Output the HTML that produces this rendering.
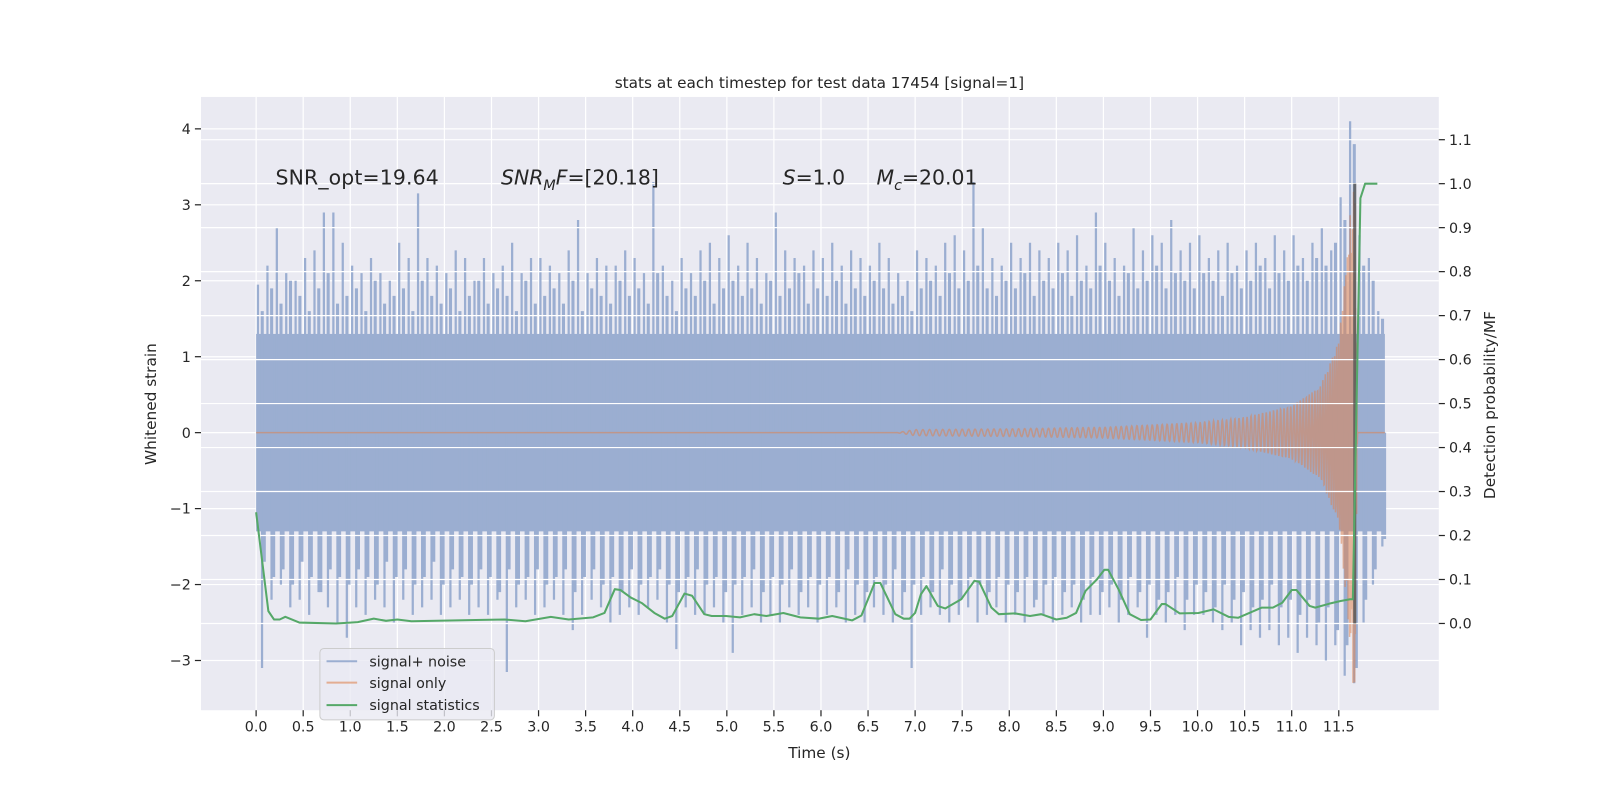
<!DOCTYPE html>
<html><head><meta charset="utf-8"><style>
body{margin:0;background:#fff;}
svg{display:block;font-family:"DejaVu Sans","Liberation Sans",sans-serif;}
</style></head><body>
<svg id="chart" width="1600" height="800" viewBox="0 0 1568 784" xmlns="http://www.w3.org/2000/svg">
<rect x="0" y="0" width="1568" height="784" fill="#ffffff"/>
<rect x="197" y="95" width="1213" height="601" fill="#eaeaf2"/>
<g id="gridL"></g>
<g id="gridX"></g>
<g id="noise"></g>
<g id="sig"></g>
<g id="gridR"></g>
<g id="stat"></g>
<g id="axes"></g>
<text x="803" y="86" text-anchor="middle" font-size="15" fill="#262626">stats at each timestep for test data 17454 [signal=1]</text>
<text x="803" y="743" text-anchor="middle" font-size="15" fill="#262626">Time (s)</text>
<text transform="translate(153,396) rotate(-90)" text-anchor="middle" font-size="15" fill="#262626">Whitened strain</text>
<text transform="translate(1465,397) rotate(-90)" text-anchor="middle" font-size="15" fill="#262626">Detection probability/MF</text>
<g font-size="20" fill="#262626">
<text x="270" y="181" textLength="160">SNR_opt=19.64</text>
<text x="491" y="181"><tspan font-style="italic">SNR</tspan><tspan font-style="italic" font-size="14" dy="5">M</tspan><tspan font-style="italic" dy="-5">F</tspan>=[20.18]</text>
<text x="767" y="181"><tspan font-style="italic">S</tspan>=1.0</text>
<text x="859" y="181"><tspan font-style="italic">M</tspan><tspan font-style="italic" font-size="14" dy="5">c</tspan><tspan dy="-5">=20.01</tspan></text>
</g>
<g>
<rect x="313.5" y="635.5" width="171" height="70" rx="4" fill="#eaeaf2" fill-opacity="0.8" stroke="#cccccc"/>
<line x1="320" y1="648" x2="350" y2="648" stroke="#4c72b0" stroke-opacity="0.5" stroke-width="2"/>
<text x="362" y="653" font-size="14" fill="#262626">signal+ noise</text>
<line x1="320" y1="669" x2="350" y2="669" stroke="#dd8452" stroke-opacity="0.6" stroke-width="2"/>
<text x="362" y="674" font-size="14" fill="#262626">signal only</text>
<line x1="320" y1="691" x2="350" y2="691" stroke="#55a868" stroke-width="2"/>
<text x="362" y="696" font-size="14" fill="#262626">signal statistics</text>
</g>
</svg>
<script>
const xTicks=[0,0.5,1,1.5,2,2.5,3,3.5,4,4.5,5,5.5,6,6.5,7,7.5,8,8.5,9,9.5,10,10.5,11,11.5];
const yTicksL=[-3,-2,-1,0,1,2,3,4];
const yTicksR=[0,0.1,0.2,0.3,0.4,0.5,0.6,0.7,0.8,0.9,1.0,1.1];
const noiseUpper=[1.95,2.2,2.7,2.1,2.0,2.3,2.4,2.9,2.9,2.5,2.2,2.1,2.3,2.1,2.0,2.5,2.3,3.15,2.3,2.2,2.1,2.4,2.3,2.0,2.3,2.1,2.2,2.5,2.1,2.3,2.3,2.2,2.1,2.4,2.8,2.1,2.3,2.2,2.2,2.4,2.3,2.1,3.3,2.2,2.0,2.3,2.1,2.4,2.5,2.3,2.6,2.2,2.5,2.3,2.1,2.9,2.4,2.3,2.2,2.4,2.3,2.5,2.2,2.4,2.3,2.2,2.5,2.3,2.1,2.0,2.4,2.3,2.2,2.5,2.6,2.4,3.3,2.7,2.3,2.2,2.5,2.3,2.5,2.4,2.3,2.5,2.4,2.6,2.2,2.9,2.5,2.3,2.2,2.7,2.4,2.6,2.5,2.8,2.4,2.5,2.6,2.3,2.4,2.5,2.2,2.4,2.5,2.3,2.6,2.4,2.6,2.3,2.5,2.7,2.4,3.1,4.1,2.6,2.3,1.6];
const noiseLower=[-3.1,-2.2,-2.0,-2.3,-2.2,-2.4,-2.1,-2.3,-2.5,-2.7,-2.3,-2.4,-2.2,-2.3,-2.5,-2.2,-2.4,-2.3,-2.2,-2.4,-2.3,-2.2,-2.4,-2.3,-2.4,-2.2,-3.15,-2.3,-2.2,-2.4,-2.3,-2.2,-2.4,-2.6,-2.4,-2.2,-2.3,-2.5,-2.4,-2.3,-2.4,-2.3,-2.2,-2.5,-2.85,-2.3,-2.4,-2.4,-2.3,-2.5,-2.9,-2.4,-2.3,-2.5,-2.4,-2.5,-2.3,-2.4,-2.3,-2.5,-2.4,-2.3,-2.5,-2.4,-2.5,-2.3,-2.4,-2.5,-2.4,-3.1,-2.4,-2.3,-2.4,-2.5,-2.4,-2.3,-2.5,-2.4,-2.3,-2.5,-2.4,-2.5,-2.3,-2.4,-2.5,-2.4,-2.3,-2.5,-2.4,-2.4,-2.3,-2.5,-2.4,-2.3,-2.7,-2.4,-2.5,-2.4,-2.6,-2.4,-2.4,-2.5,-2.6,-2.5,-2.8,-2.6,-2.7,-2.6,-2.8,-2.7,-2.9,-2.7,-2.8,-3.0,-2.8,-3.2,-3.3,-2.5,-2.0,-1.5];
const noiseMidUpper=[1.6,1.9,1.7,2.0,1.8,1.6,1.9,2.1,1.7,1.8,1.9,1.6,2.0,1.7,1.8,1.9,1.6,2.0,1.8,1.7,1.9,1.6,1.8,2.0,1.7,1.9,1.8,1.6,2.0,1.7,1.8,1.9,1.7,2.0,1.6,1.9,1.8,1.7,2.0,1.8,1.9,1.7,2.1,1.8,1.6,1.9,1.8,2.0,1.7,1.9,2.0,1.8,1.9,1.7,2.0,1.8,1.9,2.1,1.7,1.9,1.8,2.0,1.7,1.9,1.8,2.0,1.9,1.7,1.8,1.6,1.9,2.0,1.8,2.1,1.9,2.0,2.2,1.9,1.8,2.0,1.9,2.1,1.8,2.0,1.9,2.1,1.8,2.0,1.9,2.2,2.0,1.8,2.1,1.9,2.0,2.2,1.9,2.1,2.0,1.9,2.1,2.0,1.8,2.1,1.9,2.0,2.2,1.9,2.1,2.0,2.2,2.0,2.3,2.2,2.5,2.8,3.8,2.2,2.0,1.5];
const noiseMidLower=[-1.7,-1.9,-1.8,-2.0,-1.7,-1.9,-2.1,-1.8,-1.9,-2.0,-1.8,-1.9,-2.0,-1.7,-1.9,-1.8,-2.0,-1.9,-1.7,-2.0,-1.8,-1.9,-2.0,-1.8,-1.9,-2.1,-1.8,-2.0,-1.9,-1.8,-2.0,-1.9,-1.8,-2.1,-1.9,-1.8,-2.0,-1.9,-2.1,-1.8,-2.0,-1.9,-1.8,-2.0,-2.1,-1.9,-1.8,-2.0,-1.9,-2.1,-2.0,-1.9,-1.8,-2.1,-1.9,-2.0,-1.8,-2.1,-1.9,-2.0,-1.9,-2.1,-1.8,-2.0,-2.1,-1.9,-2.0,-1.8,-2.1,-2.0,-1.9,-2.1,-1.8,-2.0,-2.2,-1.9,-2.0,-2.1,-1.9,-2.0,-2.1,-1.9,-2.2,-2.0,-1.9,-2.1,-2.0,-2.2,-1.9,-2.1,-2.0,-2.2,-1.9,-2.1,-2.0,-2.2,-2.1,-1.9,-2.2,-2.0,-2.1,-2.3,-2.0,-2.2,-2.1,-2.3,-2.2,-2.0,-2.3,-2.2,-2.4,-2.2,-2.5,-2.3,-2.6,-2.8,-3.1,-2.2,-1.8,-1.4];
const noiseCore=1.3;
const noiseStart=0, noiseEnd=11.99, noiseStep=0.1;
const sigEnvT=[0,6.8,7.0,8.0,9.0,9.5,10.0,10.5,11.0,11.3,11.5,11.6,11.65,11.67,11.7,11.99];
const sigEnvA=[0,0,0.04,0.05,0.07,0.1,0.13,0.2,0.35,0.6,1.2,2.5,3.45,3.3,0,0];
const mergerT=11.68;
const statT=[0,0.13,0.19,0.25,0.31,0.46,0.85,1.08,1.25,1.38,1.5,1.65,2.33,2.64,2.86,3.13,3.32,3.58,3.7,3.81,3.87,3.98,4.1,4.23,4.34,4.42,4.55,4.63,4.76,4.84,4.99,5.14,5.29,5.42,5.6,5.78,5.98,6.12,6.33,6.43,6.57,6.63,6.79,6.88,6.94,7.0,7.06,7.12,7.24,7.32,7.49,7.63,7.68,7.81,7.89,8.06,8.22,8.34,8.5,8.61,8.71,8.81,8.93,9.01,9.05,9.16,9.28,9.4,9.5,9.62,9.66,9.81,10.01,10.17,10.33,10.43,10.68,10.8,10.9,11.0,11.05,11.19,11.25,11.4,11.52,11.62,11.65,11.73,11.78,11.91];
const statP=[0.253,0.028,0.009,0.009,0.015,0.002,0.0,0.003,0.011,0.006,0.009,0.005,0.008,0.009,0.005,0.015,0.009,0.014,0.024,0.078,0.076,0.059,0.046,0.024,0.011,0.017,0.068,0.063,0.021,0.017,0.017,0.014,0.021,0.017,0.024,0.014,0.011,0.017,0.007,0.018,0.092,0.092,0.021,0.011,0.011,0.024,0.066,0.085,0.04,0.034,0.055,0.097,0.095,0.036,0.021,0.023,0.017,0.021,0.009,0.013,0.024,0.074,0.1,0.122,0.122,0.078,0.021,0.008,0.009,0.044,0.044,0.023,0.024,0.032,0.015,0.013,0.036,0.036,0.047,0.076,0.076,0.04,0.036,0.045,0.051,0.055,0.055,0.967,1.0,1.0];
const markerT=11.67, markerP0=0, markerP1=1.0;

const NS='http://www.w3.org/2000/svg';
const X0=197,X1=1410,Y0=95,Y1=696;
function xs(t){return 251+92.26*t;}
function yl(v){return 424-74.43*v;}
function yr(p){return 611-431*p;}
function mk(tag,attrs,parent){const e=document.createElementNS(NS,tag);for(const k in attrs)e.setAttribute(k,attrs[k]);parent.appendChild(e);return e;}
const gL=document.getElementById('gridL'),gX=document.getElementById('gridX'),gR=document.getElementById('gridR'),ax=document.getElementById('axes');
yTicksL.forEach(v=>{
  const l=mk('line',{x1:X0,x2:X1,y1:yl(v),y2:yl(v),stroke:'#ffffff','stroke-width':1.2},gL);
  
  
  const tk=mk('line',{x1:X0-6,x2:X0,y1:yl(v),y2:yl(v),stroke:'#262626','stroke-width':1.2},ax);
  
  
  const t=mk('text',{x:X0-10,y:yl(v)+5,'text-anchor':'end','font-size':14,fill:'#262626'},ax);
  t.textContent=(v<0?'\u2212'+(-v):String(v));
  
  
});
xTicks.forEach(v=>{
  const l=mk('line',{x1:xs(v),x2:xs(v),y1:Y0,y2:Y1,stroke:'#ffffff','stroke-width':1.2},gX);
  
  
  const tk=mk('line',{x1:xs(v),x2:xs(v),y1:Y1,y2:Y1+6,stroke:'#262626','stroke-width':1.2},ax);
  
  
  const t=mk('text',{x:xs(v),y:Y1+21,'text-anchor':'middle','font-size':14,fill:'#262626'},ax);
  t.textContent=v.toFixed(1);
  
  
});
yTicksR.forEach(v=>{
  const l=mk('line',{x1:X0,x2:X1,y1:yr(v),y2:yr(v),stroke:'#ffffff','stroke-width':1.2},gR);
  
  
  const tk=mk('line',{x1:X1,x2:X1+6,y1:yr(v),y2:yr(v),stroke:'#262626','stroke-width':1.2},ax);
  
  
  const t=mk('text',{x:X1+10,y:yr(v)+5,'font-size':14,fill:'#262626'},ax);
  t.textContent=v.toFixed(1);
  
  
});
// noise
const nz=document.getElementById('noise');
const core=mk('rect',{x:xs(noiseStart),y:yl(noiseCore),width:xs(noiseEnd)-xs(noiseStart),height:yl(-noiseCore)-yl(noiseCore),fill:'#9baed1'},nz);


let d='';
for(let i=0;i<noiseUpper.length;i++){
  const x=xs(noiseStart+i*noiseStep+0.02);
  d+='M'+x.toFixed(1)+','+yl(noiseUpper[i]).toFixed(1)+'V'+yl(0).toFixed(1);
  d+='M'+(x+4).toFixed(1)+','+yl(noiseLower[i]).toFixed(1)+'V'+yl(0).toFixed(1);
}
const sp=mk('path',{d:d,stroke:'#9baed1','stroke-width':2.2,fill:'none'},nz);


let d2='';
for(let i=0;i<noiseMidUpper.length;i++){
  const x=xs(noiseStart+i*noiseStep+0.065);
  d2+='M'+x.toFixed(1)+','+yl(noiseMidUpper[i]).toFixed(1)+'V'+yl(0).toFixed(1);
  d2+='M'+(x+2).toFixed(1)+','+yl(noiseMidLower[i]).toFixed(1)+'V'+yl(0).toFixed(1);
}
const sp2=mk('path',{d:d2,stroke:'#9baed1','stroke-width':3,fill:'none'},nz);


// signal only
function env(t){for(let i=1;i<sigEnvT.length;i++){if(t<=sigEnvT[i]){const f=(t-sigEnvT[i-1])/(sigEnvT[i]-sigEnvT[i-1]);return sigEnvA[i-1]+f*(sigEnvA[i]-sigEnvA[i-1]);}}return 0;}
const sg=document.getElementById('sig');
let sd='',ph=0,prevT=0;const N=4000;
for(let i=0;i<=N;i++){
  const t=noiseEnd*i/N;
  const tau=Math.max(mergerT-t,0.004);
  const f=14*Math.pow(tau/4.68,-0.375);
  ph+=2*Math.PI*f*(t-prevT);prevT=t;
  const v=env(t)*Math.cos(ph);
  sd+=(i?'L':'M')+xs(t).toFixed(1)+','+yl(v).toFixed(1);
}
const sl=mk('path',{d:sd,stroke:'#dd8452','stroke-opacity':0.55,'stroke-width':1.5,fill:'none'},sg);


// statistics
const st=document.getElementById('stat');
const mkl=mk('line',{x1:xs(markerT),x2:xs(markerT),y1:yr(markerP0),y2:yr(markerP1),stroke:'#555555','stroke-opacity':0.8,'stroke-width':3},st);


const pd=statT.map((t,i)=>(i?'L':'M')+xs(t).toFixed(1)+','+yr(statP[i]).toFixed(1)).join('');
const gl=mk('path',{d:pd,stroke:'#55a868','stroke-width':2,fill:'none','stroke-linejoin':'round'},st);


</script>
</body></html>
